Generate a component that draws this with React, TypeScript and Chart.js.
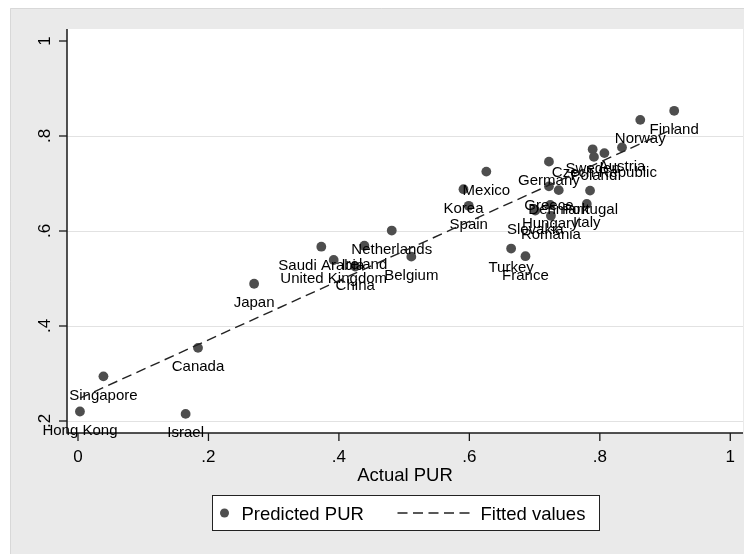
import React, { useEffect, useRef } from "react";
import { Chart, registerables } from "chart.js";

Chart.register(...registerables);

// ---------- data ----------
const countries = [
  "Hong Kong", "Singapore", "Israel", "Canada", "Japan",
  "Saudi Arabia", "United Kingdom", "Ireland", "China", "Netherlands",
  "Belgium", "Korea", "Spain", "Mexico", "Turkey",
  "France", "Germany", "Greece", "Denmark", "Portugal",
  "Hungary", "Italy", "Slovakia", "Romania", "Sweden",
  "Czech Republic", "Poland", "Austria", "Norway", "Finland",
];
const actualPUR = [
  0.003, 0.039, 0.165, 0.184, 0.270,
  0.373, 0.392, 0.439, 0.425, 0.481,
  0.511, 0.591, 0.599, 0.626, 0.664,
  0.686, 0.722, 0.722, 0.737, 0.785,
  0.724, 0.780, 0.701, 0.725, 0.789,
  0.807, 0.791, 0.834, 0.862, 0.914,
];
const predictedPUR = [
  0.220, 0.294, 0.215, 0.354, 0.489,
  0.567, 0.539, 0.569, 0.525, 0.601,
  0.546, 0.688, 0.653, 0.725, 0.563,
  0.547, 0.746, 0.694, 0.686, 0.685,
  0.655, 0.657, 0.643, 0.632, 0.772,
  0.764, 0.756, 0.776, 0.834, 0.853,
];
const fittedX = [0.003, 0.914];
const fittedY = [0.248, 0.816];

const xTickValues = [0, 0.2, 0.4, 0.6, 0.8, 1];
const xTickLabels = ["0", ".2", ".4", ".6", ".8", "1"];
const yTickValues = [0.2, 0.4, 0.6, 0.8, 1];
const yTickLabels = [".2", ".4", ".6", ".8", "1"];
const yGridValues = [0.2, 0.4, 0.6, 0.8];
const xTitle = "Actual PUR";
const seriesNames = ["Predicted PUR", "Fitted values"];

// ---------- styles ----------
const FONT = '"Liberation Sans", Arial, Helvetica, sans-serif';
const DOT = "#4e4e4e";
const GRAPH_BG = "#eaeaea";
const GRID = "#e2e2e2";
const AXIS = "#1a1a1a";
const DASH = [10, 5.5];

const stataPlugin = {
  id: "stataLook",
  beforeDraw(chart: any) {
    const { ctx, width, height, chartArea: a } = chart;
    ctx.save();
    ctx.fillStyle = "#ffffff";
    ctx.fillRect(0, 0, width, height);
    ctx.fillStyle = GRAPH_BG;
    ctx.fillRect(2, 0, width - 2, height);
    ctx.strokeStyle = "#d8d8d8";
    ctx.lineWidth = 1;
    ctx.beginPath();
    ctx.moveTo(2.5, height);
    ctx.lineTo(2.5, 0.5);
    ctx.lineTo(width, 0.5);
    ctx.stroke();
    ctx.fillStyle = "#ffffff";
    ctx.fillRect(a.left, a.top, a.right - a.left, a.bottom - a.top);
    ctx.restore();
  },
  beforeDatasetsDraw(chart: any) {
    const { ctx, chartArea: a, scales } = chart;
    const xs = scales.x;
    const ys = scales.y;
    ctx.save();
    // grid lines
    ctx.strokeStyle = GRID;
    ctx.lineWidth = 1;
    for (const v of yGridValues) {
      const y = Math.round(ys.getPixelForValue(v)) + 0.5;
      ctx.beginPath();
      ctx.moveTo(a.left, y);
      ctx.lineTo(a.right, y);
      ctx.stroke();
    }
    // axes lines
    ctx.strokeStyle = AXIS;
    ctx.lineWidth = 1.5;
    ctx.beginPath();
    ctx.moveTo(a.left, a.top);
    ctx.lineTo(a.left, a.bottom);
    ctx.lineTo(a.right, a.bottom);
    ctx.stroke();
    // y ticks + labels
    ctx.lineWidth = 1.3;
    ctx.fillStyle = "#000";
    ctx.font = `17px ${FONT}`;
    ctx.textAlign = "center";
    ctx.textBaseline = "alphabetic";
    yTickValues.forEach((v, i) => {
      const y = ys.getPixelForValue(v);
      ctx.beginPath();
      ctx.moveTo(a.left - 8, y);
      ctx.lineTo(a.left, y);
      ctx.stroke();
      ctx.save();
      ctx.translate(a.left - 17, y);
      ctx.rotate(-Math.PI / 2);
      ctx.fillText(yTickLabels[i], 0, 0);
      ctx.restore();
    });
    // x ticks + labels
    xTickValues.forEach((v, i) => {
      const x = xs.getPixelForValue(v);
      ctx.beginPath();
      ctx.moveTo(x, a.bottom);
      ctx.lineTo(x, a.bottom + 8);
      ctx.stroke();
      ctx.fillText(xTickLabels[i], x, a.bottom + 29);
    });
    // axis title
    ctx.font = `18.5px ${FONT}`;
    ctx.fillText(xTitle, (a.left + a.right) / 2, a.bottom + 48);
    ctx.restore();
  },
  afterDatasetDraw(chart: any, args: any) {
    if (args.index !== 0) return;
    const { ctx } = chart;
    const meta = chart.getDatasetMeta(0);
    ctx.save();
    ctx.fillStyle = "#000";
    ctx.font = `15px ${FONT}`;
    ctx.textAlign = "center";
    ctx.textBaseline = "alphabetic";
    meta.data.forEach((pt: any, i: number) => {
      ctx.fillText(countries[i], pt.x, pt.y + 23.5);
    });
    ctx.restore();
  },
  afterDraw(chart: any) {
    const { ctx, chartArea: a } = chart;
    const ds = chart.data.datasets;
    const cx = (a.left + a.right) / 2;
    const bw = 387;
    const bh = 35;
    const bx = Math.round(cx - bw / 2) + 0.5;
    const by = a.bottom + 62.5;
    ctx.save();
    ctx.fillStyle = "#ffffff";
    ctx.fillRect(bx, by, bw, bh);
    ctx.strokeStyle = "#222";
    ctx.lineWidth = 1;
    ctx.strokeRect(bx, by, bw, bh);
    const my = by + bh / 2;
    // marker
    ctx.fillStyle = DOT;
    ctx.beginPath();
    ctx.arc(bx + 12, my, 4.5, 0, Math.PI * 2);
    ctx.fill();
    ctx.fillStyle = "#000";
    ctx.font = `18.5px ${FONT}`;
    ctx.textAlign = "left";
    ctx.textBaseline = "alphabetic";
    ctx.fillText(ds[0].label, bx + 29, my + 6.5);
    // dashed line
    ctx.strokeStyle = "#222";
    ctx.lineWidth = 1.3;
    ctx.setLineDash(DASH);
    ctx.beginPath();
    ctx.moveTo(bx + 185, my);
    ctx.lineTo(bx + 257, my);
    ctx.stroke();
    ctx.setLineDash([]);
    ctx.fillText(ds[1].label, bx + 268, my + 6.5);
    ctx.restore();
  },
};

export default function App() {
  const canvasRef = useRef<HTMLCanvasElement | null>(null);

  useEffect(() => {
    const canvas = canvasRef.current;
    if (!canvas) return;
    const scatterData = actualPUR.map((x, i) => ({ x, y: predictedPUR[i] }));
    const fitData = fittedX.map((x, i) => ({ x, y: fittedY[i] }));
    const chart = new Chart(canvas, {
      type: "scatter",
      data: {
        datasets: [
          {
            label: seriesNames[0],
            data: scatterData,
            pointRadius: 4.9,
            pointHoverRadius: 4.9,
            pointBackgroundColor: DOT,
            pointBorderWidth: 0,
            borderWidth: 0,
            showLine: false,
            order: 2,
          },
          {
            type: "line",
            label: seriesNames[1],
            data: fitData,
            borderColor: "#222",
            borderWidth: 1.4,
            borderDash: DASH,
            pointRadius: 0,
            fill: false,
            showLine: true,
            tension: 0,
            order: 1,
          } as any,
        ],
      },
      options: {
        animation: false,
        responsive: false,
        devicePixelRatio: 1,
        events: [],
        layout: { padding: { left: 59, right: 9, top: 21, bottom: 121 } },
        plugins: {
          legend: { display: false },
          tooltip: { enabled: false },
          title: { display: false },
        },
        scales: {
          x: { type: "linear", display: false, min: -0.01686, max: 1.0195 },
          y: { type: "linear", display: false, min: 0.17474, max: 1.02526 },
        },
      },
      plugins: [stataPlugin as any],
    });
    return () => chart.destroy();
  }, []);

  return (
    <div style={{ width: 744, height: 546 }}>
      <canvas ref={canvasRef} width={744} height={546} style={{ display: "block" }} />
    </div>
  );
}
